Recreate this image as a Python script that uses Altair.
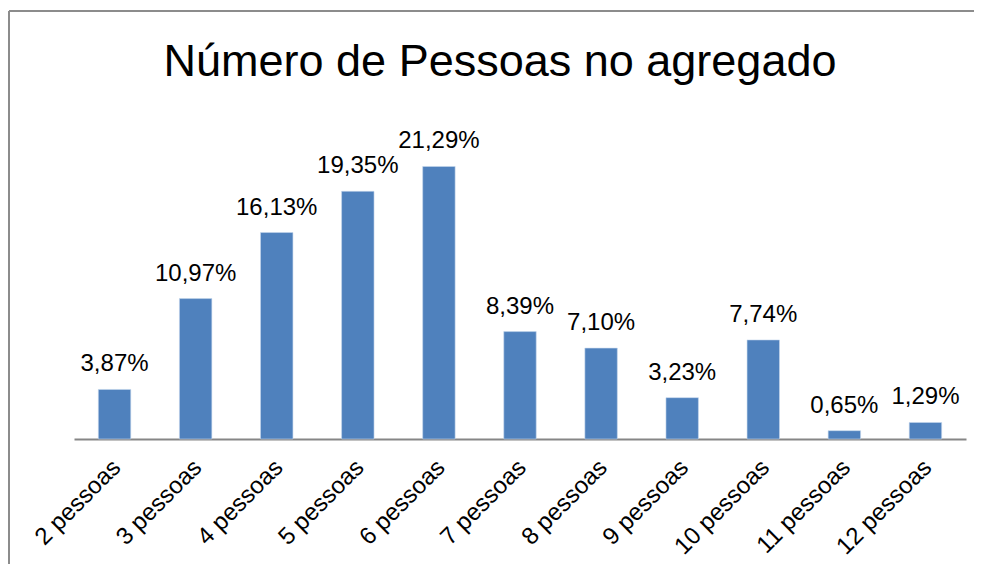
import altair as alt
import pandas as pd

categories = ["2 pessoas", "3 pessoas", "4 pessoas", "5 pessoas", "6 pessoas",
              "7 pessoas", "8 pessoas", "9 pessoas", "10 pessoas", "11 pessoas", "12 pessoas"]
values = [3.87, 10.97, 16.13, 19.35, 21.29, 8.39, 7.10, 3.23, 7.74, 0.65, 1.29]
title_text = ["Número de Pessoas no agregado"]

df = pd.DataFrame({
    "cat": categories,
    "val": values,
    "label": [f"{v:.2f}%".replace(".", ",") for v in values],
})

FONT = "Liberation Sans"
W, H = 892, 320

base = alt.Chart(df).encode(
    x=alt.X("cat:N", sort=categories, title=None,
            scale=alt.Scale(paddingInner=0.6, paddingOuter=0.3),
            axis=alt.Axis(labelAngle=-45, labelFontSize=24, labelFont=FONT,
                          labelColor="#000000", ticks=False, domainColor="#868686",
                          domainWidth=2, labelPadding=16, labelOffset=-6,
                          labelLimit=300)),
    y=alt.Y("val:Q", title=None, scale=alt.Scale(domain=[0, 25]), axis=None),
)

bars = base.mark_bar(color="#4F81BD", stroke="#C6D6EC", strokeWidth=0.6)
labels = base.mark_text(dy=-18, baseline="alphabetic", fontSize=24, font=FONT,
                        color="#000000").encode(text="label:N")

frame_left = alt.Chart(df).mark_rule(color="#8C8C8C", strokeWidth=2).encode(
    x=alt.value(-65), y=alt.value(-108), y2=alt.value(H + 140))
frame_top = alt.Chart(df).mark_rule(color="#8C8C8C", strokeWidth=2).encode(
    x=alt.value(-65), x2=alt.value(W + 10), y=alt.value(-108))

title = alt.Chart(pd.DataFrame({"t": title_text})).mark_text(
    fontSize=45, font=FONT, color="#000000", align="center", baseline="alphabetic"
).encode(text="t:N", x=alt.value(W / 2 - 20), y=alt.value(-43))

chart = alt.layer(frame_left, frame_top, bars, labels, title).properties(
    width=W, height=H,
    background="white",
    autosize=alt.AutoSizeParams(type="none"),
    padding={"left": 66, "top": 111, "right": 8, "bottom": 125},
).configure_view(strokeWidth=0, stroke="transparent")

chart.save("out.html", embed_options={"renderer": "svg", "actions": False})
